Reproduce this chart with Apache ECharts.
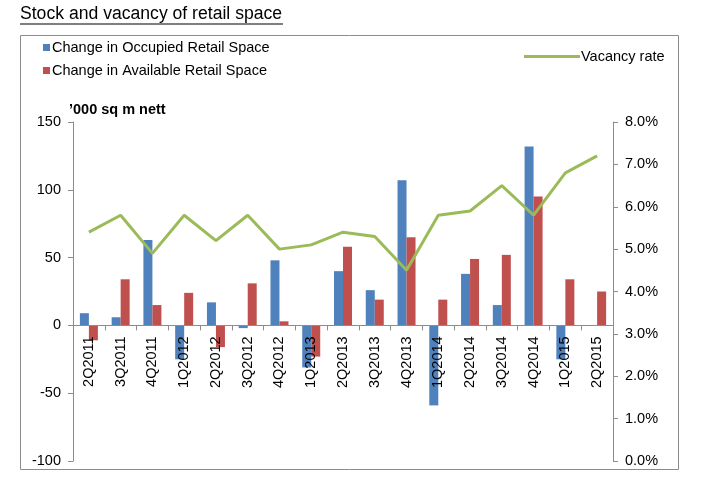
<!DOCTYPE html>
<html><head><meta charset="utf-8">
<script src="https://cdn.jsdelivr.net/npm/echarts@6/dist/echarts.min.js"></script>
<style>html,body{margin:0;padding:0;background:#fff}#c{width:712px;height:498px}</style>
</head><body><div id="c"></div>
<script>
const categories = ['2Q2011','3Q2011','4Q2011','1Q2012','2Q2012','3Q2012','4Q2012','1Q2013','2Q2013','3Q2013','4Q2013','1Q2014','2Q2014','3Q2014','4Q2014','1Q2015','2Q2015'];
const occupied = [9, 6, 63, -25, 17, -2, 48, -31, 40, 26, 107, -59, 38, 15, 132, -25, 0];
const available = [-11, 34, 15, 24, -16, 31, 3, -23, 58, 19, 65, 19, 49, 52, 95, 34, 25];
const vacancy = [5.4, 5.8, 4.9, 5.8, 5.2, 5.8, 5.0, 5.1, 5.4, 5.3, 4.5, 5.8, 5.9, 6.5, 5.8, 6.8, 7.2];
const leftTicks = {min: -100, max: 150, interval: 50};
const rightTicks = {min: 0, max: 8, interval: 1};

const gridTop = 122, gridBottom = 37, H = 498;
const plotH = H - gridTop - gridBottom;
const zeroOffset = -plotH * (0 - leftTicks.min) / (leftTicks.max - leftTicks.min);

const chart = echarts.init(document.getElementById('c'));
const F = 'Liberation Sans, Arial, sans-serif';
chart.setOption({
  animation: false,
  textStyle: {fontFamily: F},
  title: {text: 'Stock and vacancy of retail space', left: 20, top: 5, padding: 0,
    textStyle: {fontSize: 17.6, fontWeight: 'normal', color: '#000', fontFamily: F}},
  graphic: [
    {type: 'line', shape: {x1: 20, y1: 24, x2: 283, y2: 24}, style: {stroke: '#000', lineWidth: 1.2}},
    {type: 'rect', shape: {x: 20.5, y: 35.5, width: 658, height: 434}, style: {fill: null, stroke: '#8c8c8c', lineWidth: 1}, z: -1},
    {type: 'text', left: 69, top: 102, style: {text: '\u2019000 sq m nett', font: 'bold 14.5px ' + F, fill: '#000'}}
  ],
  legend: [
    {orient: 'vertical', left: 43, top: 40, padding: 0, itemWidth: 7, itemHeight: 7, itemGap: 8, icon: 'rect',
     textStyle: {fontSize: 14.5, color: '#000', padding: [0,0,0,-3]},
     data: ['Change in Occupied Retail Space', 'Change in Available Retail Space']},
    {left: 524, top: 49, padding: 0, itemWidth: 56, itemHeight: 3, icon: 'rect',
     textStyle: {fontSize: 14.5, color: '#000', padding: [0,0,0,-4]},
     data: ['Vacancy rate']}
  ],
  grid: {left: 73, right: 99, top: gridTop, bottom: gridBottom, containLabel: false, outerBoundsMode: 'none'},
  xAxis: {type: 'category', data: categories, offset: zeroOffset, z: 10,
    axisLine: {onZero: false, lineStyle: {color: '#8c8c8c'}},
    axisTick: {show: true, alignWithLabel: false, length: 5, lineStyle: {color: '#8c8c8c'}},
    axisLabel: {rotate: 90, fontSize: 14.5, color: '#000', margin: 11, interval: 0}},
  yAxis: [
    {type: 'value', min: leftTicks.min, max: leftTicks.max, interval: leftTicks.interval,
     splitLine: {show: false},
     axisLine: {show: true, lineStyle: {color: '#8c8c8c'}},
     axisTick: {show: true, length: 5, lineStyle: {color: '#8c8c8c'}},
     axisLabel: {fontSize: 14.5, color: '#000', margin: 12}},
    {type: 'value', min: rightTicks.min, max: rightTicks.max, interval: rightTicks.interval,
     splitLine: {show: false}, position: 'right',
     axisLine: {show: true, lineStyle: {color: '#8c8c8c'}},
     axisTick: {show: true, length: 5, lineStyle: {color: '#8c8c8c'}},
     axisLabel: {fontSize: 14.5, color: '#000', margin: 12, formatter: v => v.toFixed(1) + '%'}}
  ],
  series: [
    {name: 'Change in Occupied Retail Space', type: 'bar', data: occupied, barWidth: 9, barGap: '0%',
     itemStyle: {color: '#4F81BD'}},
    {name: 'Change in Available Retail Space', type: 'bar', data: available, barWidth: 9, barGap: '0%',
     itemStyle: {color: '#C0504D'}},
    {name: 'Vacancy rate', type: 'line', yAxisIndex: 1, data: vacancy, symbol: 'none',
     lineStyle: {color: '#9BBB59', width: 3}, itemStyle: {color: '#9BBB59'}}
  ]
});
</script></body></html>
